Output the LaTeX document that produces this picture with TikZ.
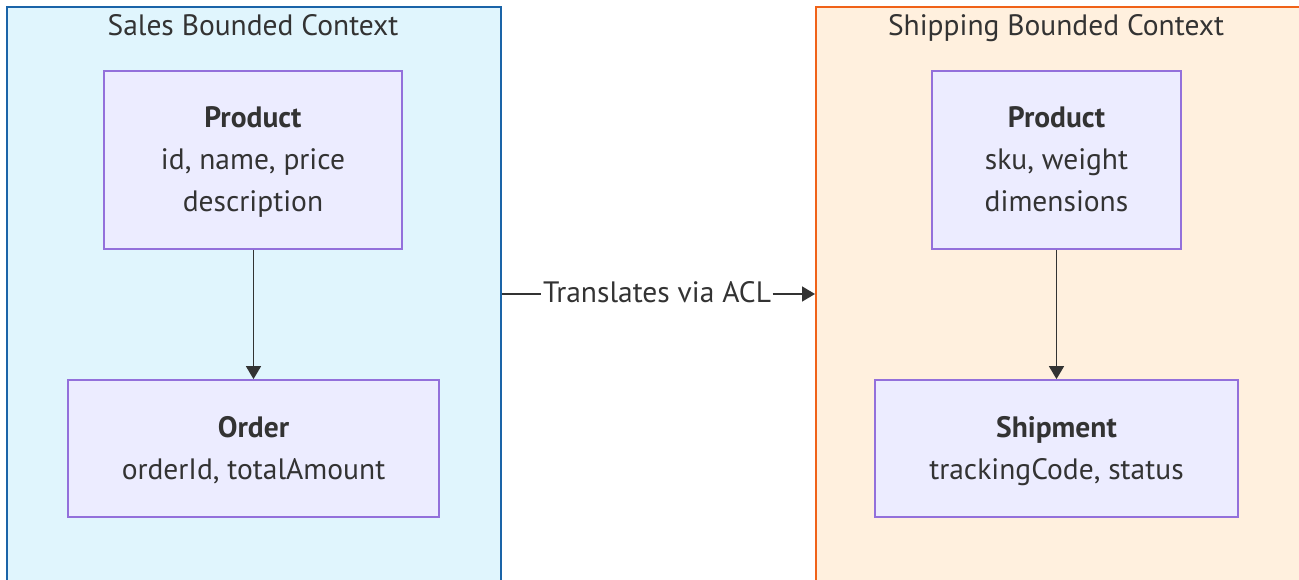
\documentclass[tikz,border=0pt]{standalone}
\usepackage{fontspec}
\setmainfont{PT Sans}
\usetikzlibrary{arrows.meta}
\definecolor{ink}{HTML}{333333}
\definecolor{salesfill}{RGB}{224,245,253}
\definecolor{salesline}{RGB}{26,100,168}
\definecolor{shipfill}{RGB}{255,240,222}
\definecolor{shipline}{RGB}{240,98,24}
\definecolor{entfill}{HTML}{ECECFF}
\definecolor{entline}{HTML}{9370DB}
\newcommand{\entline}[1]{\strut#1}
\tikzset{
  ctxbox/.style={draw, line width=2pt, inner sep=0pt, anchor=north west},
  entity/.style={draw=entline, fill=entfill, line width=1.8pt, inner sep=0pt},
  entitytext/.style={inner sep=0pt, align=center, text=ink,
    font=\fontsize{29.5}{42}\selectfont},
  ctxtitle/.style={text=ink, inner sep=0pt, anchor=base, font=\fontsize{29.5}{34}\selectfont},
  flow/.style={draw=ink, line width=1.6pt, -{Triangle[length=13pt,width=15pt]}},
  plainline/.style={draw=ink, line width=1.6pt},
  edgelabel/.style={text=ink, inner sep=1.5pt, anchor=base, font=\fontsize{29.5}{34}\selectfont}
}
\begin{document}
\begin{tikzpicture}[x=1pt,y=-1pt]
\useasboundingbox (0,0) rectangle (1299,579);
\fill[white] (0,0) rectangle (1299,579);
\begin{scope}
\clip (0,0) rectangle (1299,579);
% bounded contexts (they continue below the visible area)
\node[ctxbox, draw=salesline, fill=salesfill, minimum width=494pt, minimum height=640pt] (sales) at (6,6) {};
\node[ctxbox, draw=shipline, fill=shipfill, minimum width=484pt, minimum height=640pt] (ship) at (815,6) {};
\end{scope}
\node[ctxtitle] (salestitle) at (253,35) {Sales Bounded Context};
\node[ctxtitle] (shiptitle) at (1056,35) {Shipping Bounded Context};
% sales entities
\node[entity, minimum width=298pt, minimum height=178pt] (sproduct) at (253,160) {};
\node[entitytext] (sproducttext) at (253,161.1)
  {\entline{\textbf{Product}}\\\entline{id, name, price}\\\entline{description}};
\node[entity, minimum width=371pt, minimum height=137pt] (order) at (253.5,448.5) {};
\node[entitytext] (ordertext) at (253.5,450.1)
  {\entline{\textbf{Order}}\\\entline{orderId, totalAmount}};
% shipping entities
\node[entity, minimum width=249pt, minimum height=178pt] (hproduct) at (1056.5,160) {};
\node[entitytext] (hproducttext) at (1056.5,161.1)
  {\entline{\textbf{Product}}\\\entline{sku, weight}\\\entline{dimensions}};
\node[entity, minimum width=363pt, minimum height=137pt] (shipment) at (1056.5,448.5) {};
\node[entitytext] (shipmenttext) at (1056.5,450.1)
  {\entline{\textbf{Shipment}}\\\entline{trackingCode, status}};
% relations
\draw[flow] (sproduct.south -| order.north) -- (order.north);
\draw[flow] (hproduct.south) -- (hproduct.south |- shipment.north);
\node[edgelabel] (acl) at (657,302.5) {Translates via ACL};
\coordinate (aclstart) at (sales.east |- 0,294);
\draw[plainline] (aclstart) -- (acl.west |- aclstart);
\draw[flow] (acl.east |- aclstart) -- (ship.west |- aclstart);
\end{tikzpicture}
\end{document}
